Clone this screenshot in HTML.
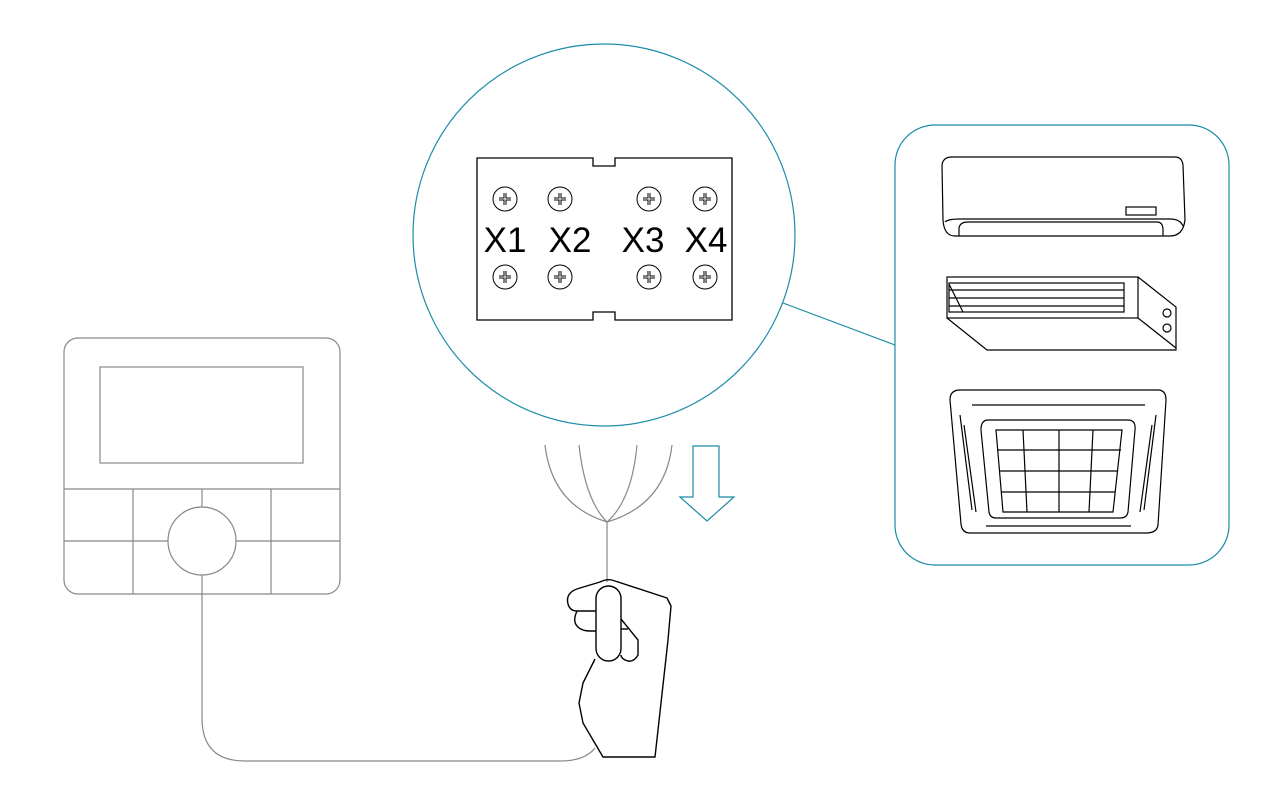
<!DOCTYPE html>
<html><head><style>html,body{margin:0;padding:0;background:#fff}svg{display:block}</style></head>
<body>
<svg width="1280" height="799" viewBox="0 0 1280 799" xmlns="http://www.w3.org/2000/svg">
<!-- controller -->
<g fill="none" stroke="#888" stroke-width="1.2">
<rect x="64" y="338" width="276" height="256" rx="14"/>
<rect x="100" y="367" width="203" height="96"/>
<line x1="64" y1="489" x2="340" y2="489"/>
<line x1="64" y1="541" x2="168" y2="541"/>
<line x1="236" y1="541" x2="340" y2="541"/>
<line x1="133" y1="489" x2="133" y2="594"/>
<line x1="271" y1="489" x2="271" y2="594"/>
<line x1="202" y1="489" x2="202" y2="507"/>
<circle cx="202" cy="541" r="34"/>
<path d="M202 575 V718 Q202 761 245 761 H560 Q585 761 595 748"/>
<!-- wires -->
<path d="M545 445 Q552 505 607 522"/>
<path d="M579 445 Q585 500 607 522"/>
<path d="M637 445 Q632 500 607 522"/>
<path d="M672 445 Q665 505 607 522"/>
<line x1="607" y1="522" x2="607" y2="582"/>
</g>
<!-- circle -->
<g fill="none" stroke="#1a8ba8" stroke-width="1.2">
<circle cx="604" cy="235" r="191"/>
<line x1="783" y1="303" x2="895" y2="345"/>
<rect x="895" y="125" width="334" height="440" rx="40"/>
<path d="M693 446 H719 V497 H734 L707 521 L680 497 H693 Z"/>
</g>
<!-- terminal board -->
<g fill="none" stroke="#000" stroke-width="1.3">
<path d="M477 158 H593 V166 H615 V158 H732 V320 H615 V312 H593 V320 H477 Z"/>
<g stroke-width="1">
<circle cx="505" cy="199" r="12"/><circle cx="560" cy="199" r="12"/><circle cx="649" cy="199" r="12"/><circle cx="705" cy="199" r="12"/>
<circle cx="505" cy="277" r="12"/><circle cx="560" cy="277" r="12"/><circle cx="649" cy="277" r="12"/><circle cx="705" cy="277" r="12"/>
</g>
<path d="M499 199h12M505 193v12M554 199h12M560 193v12M643 199h12M649 193v12M699 199h12M705 193v12M499 277h12M505 271v12M554 277h12M560 271v12M643 277h12M649 271v12M699 277h12M705 271v12" stroke-width="3"/>
<path d="M499 199h12M505 193v12M554 199h12M560 193v12M643 199h12M649 193v12M699 199h12M705 193v12M499 277h12M505 271v12M554 277h12M560 271v12M643 277h12M649 271v12M699 277h12M705 271v12" stroke="#fff" stroke-width="1"/>
</g>
<g font-family="Liberation Sans, sans-serif" font-size="35" fill="#000" text-anchor="middle">
<text x="505" y="252">X1</text><text x="570" y="252">X2</text><text x="643" y="252">X3</text><text x="706" y="252">X4</text>
</g>
<!-- hand -->
<g fill="none" stroke="#000" stroke-width="1.4" stroke-linejoin="round">
<path d="M595 659 L583 683 L579 703 L583 723 L603 757 H655 L668 640 L671 606 L667 598 L615 581 Q608 578 600 582 L580 588 Q565 592 568 604 Q570 611 577 611 H596"/>
<path d="M577 611 Q572 622 578 627 Q582 631 590 631 H596"/>
<rect x="596" y="586" width="25" height="75" rx="12.5" fill="#fff"/>
<path d="M621 619 L638 640 V655 Q634 662 628 661 Q621 659 621 655"/>
<line x1="621" y1="629" x2="628" y2="629"/>
</g>
<!-- AC units -->
<g fill="none" stroke="#000" stroke-width="1.2">
<path d="M952 157 H1175 Q1182 157 1183 165 L1185 220 Q1183 236 1170 236 H955 Q944 236 943 220 L942 165 Q943 157 952 157 Z"/>
<path d="M945 222 Q948 219 960 219 H1170 Q1180 219 1183 226"/>
<path d="M959 236 V228 Q960 222 968 222 H1157 Q1163 222 1163 230 V236"/>
<rect x="1126" y="207" width="30" height="8"/>
<rect x="947" y="277" width="191" height="41"/>
<rect x="949" y="283" width="175" height="29"/>
<path d="M949 290 H1124 M949 298 H1124 M949 306 H1124 M949 284 L963 312"/>
<path d="M1138 277 L1176 307 V350 H987 L947 318 M1138 318 L1176 348"/>
<circle cx="1167" cy="313" r="4"/><circle cx="1167" cy="328" r="4"/>
<path d="M960 390 H1158 Q1166 390 1166 400 L1158 525 Q1157 533 1146 533 H970 Q962 533 961 524 L950 400 Q950 390 960 390 Z"/>
<path d="M972 405 H1145 M986 526 H1131"/>
<path d="M960 415 L972 510 M964 425 L976 512 M1156 415 L1144 510 M1152 425 L1140 512"/>
<path d="M988 420 H1128 Q1136 420 1135 430 L1128 512 Q1127 518 1120 518 H996 Q990 518 989 512 L981 430 Q981 420 988 420 Z"/>
<path d="M996 430 H1122 L1113 512 H1003 Z"/>
<path d="M997 450 H1121 M999 471 H1118 M1001 492 H1115 M1023 430 L1027 512 M1059 430 V512 M1093 430 L1089 512"/>
</g>
</svg>
</body></html>
